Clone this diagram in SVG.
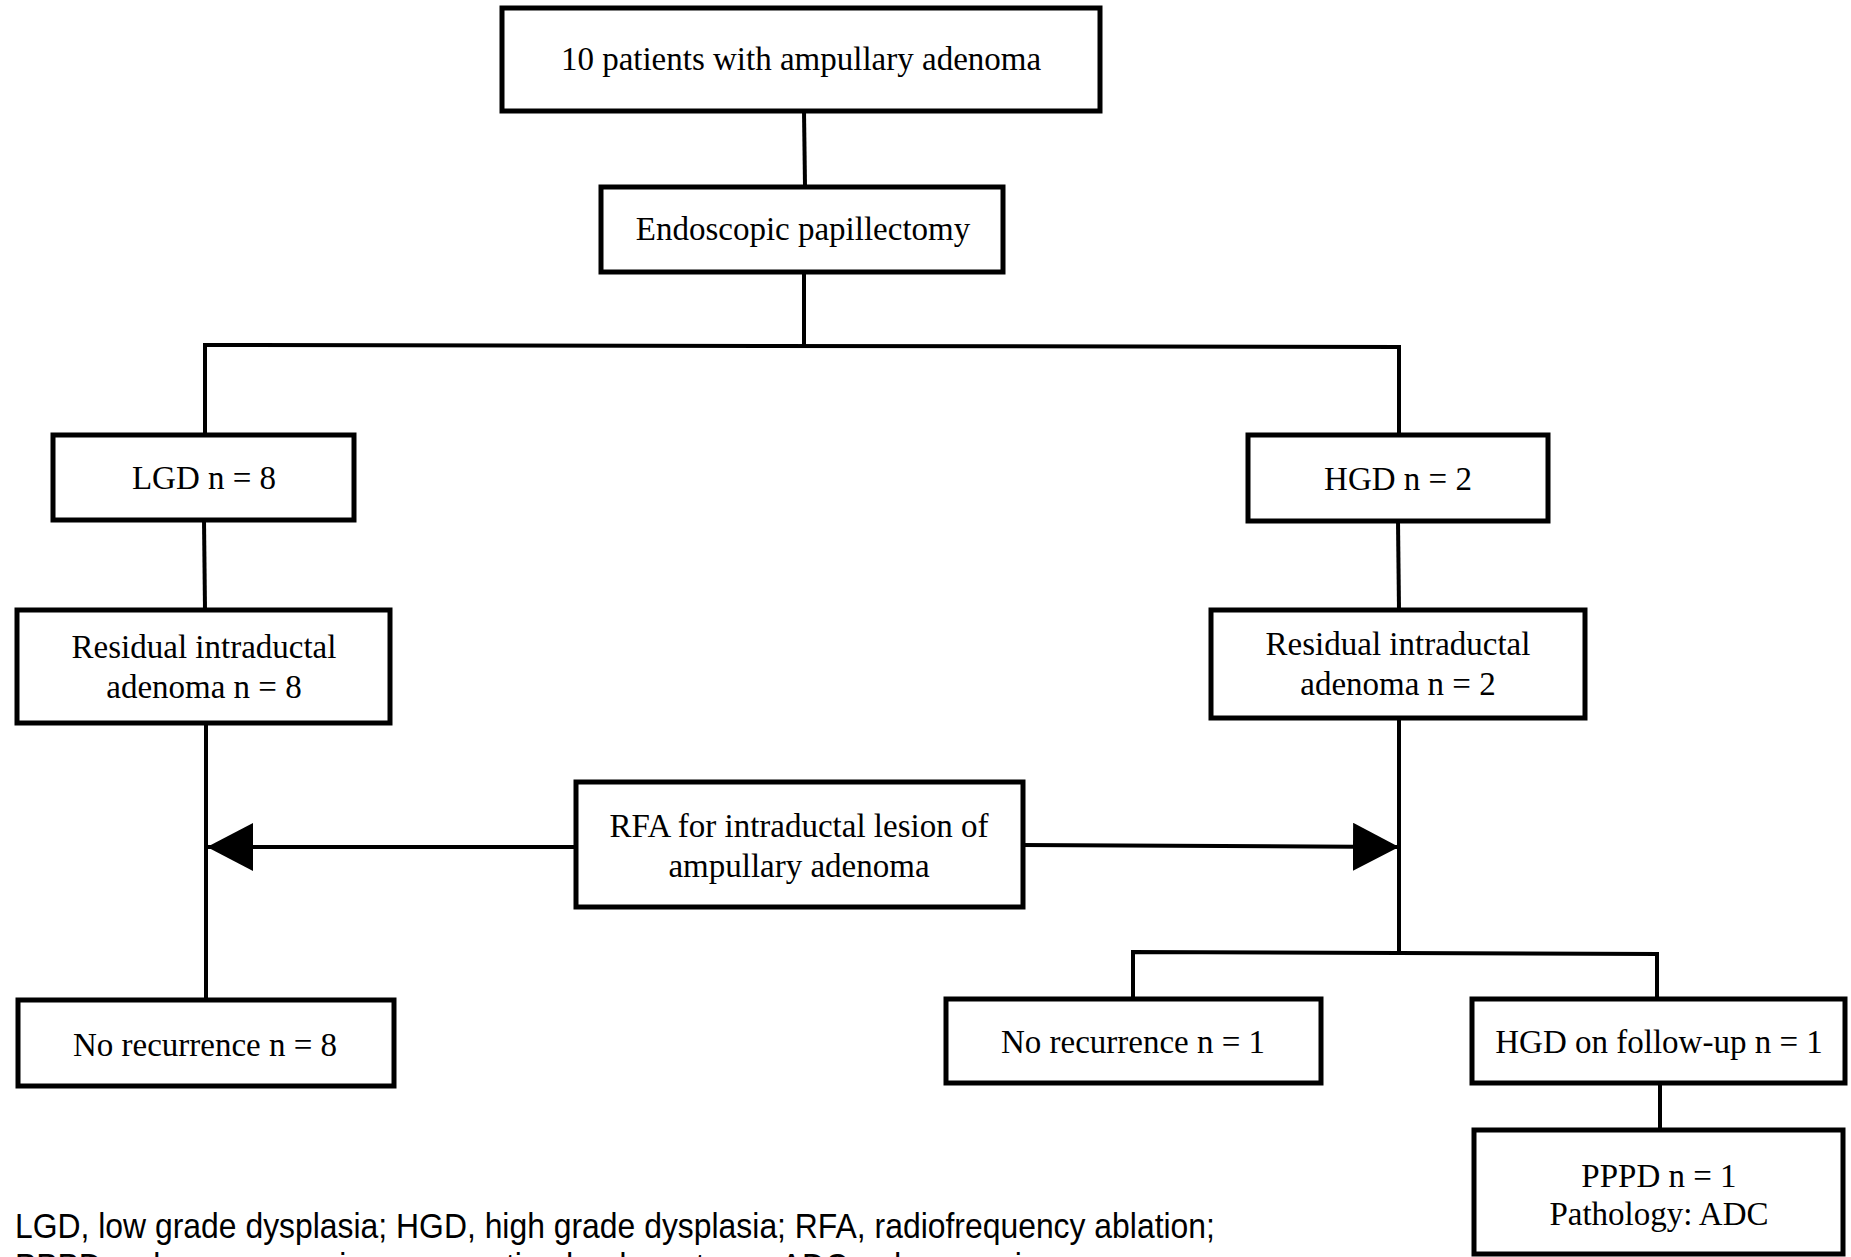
<svg xmlns="http://www.w3.org/2000/svg" width="1851" height="1257" viewBox="0 0 1851 1257">
<style>
.box{fill:#fff;stroke:#000;stroke-width:5}
.ln{fill:none;stroke:#000;stroke-width:4}
.t{font-family:"Liberation Serif","Times New Roman",serif;font-size:33px;fill:#000;text-anchor:middle}
.fn{font-family:"Liberation Sans",Arial,sans-serif;font-size:36px;fill:#000}
</style>
<defs>
<marker id="ah" viewBox="0 0 46 48" refX="46" refY="24" markerWidth="46" markerHeight="48" markerUnits="userSpaceOnUse" orient="auto">
<path d="M0,0 L46,24 L0,48 Z" fill="#000"/>
</marker>
</defs>
<rect width="1851" height="1257" fill="#fff"/>
<g id="connectors">
<line class="ln" x1="804" y1="111" x2="805" y2="186"/>
<line class="ln" x1="804" y1="272" x2="804" y2="346"/>
<polyline class="ln" points="205,434 205,345 1399,347 1399,434"/>
<line class="ln" x1="204" y1="520" x2="205" y2="610"/>
<line class="ln" x1="1398" y1="521" x2="1399" y2="610"/>
<line class="ln" x1="206" y1="723" x2="206" y2="1000"/>
<polyline class="ln" points="1399,718 1399,953"/>
<polyline class="ln" points="1133,999 1133,952 1657,954 1657,999"/>
<line class="ln" x1="1660" y1="1083" x2="1660" y2="1130"/>
<line class="ln" x1="575" y1="847" x2="207" y2="847" marker-end="url(#ah)"/>
<line class="ln" x1="1022" y1="845" x2="1399" y2="847" marker-end="url(#ah)"/>
</g>
<g id="n-top"><rect class="box" x="502" y="8" width="598" height="103"/><text class="t" x="801" y="70">10 patients with ampullary adenoma</text></g>
<g id="n-endo"><rect class="box" x="601" y="187" width="402" height="85"/><text class="t" x="803" y="240">Endoscopic papillectomy</text></g>
<g id="n-lgd"><rect class="box" x="53" y="435" width="301" height="85"/><text class="t" x="204" y="489">LGD n = 8</text></g>
<g id="n-hgd"><rect class="box" x="1248" y="435" width="300" height="86"/><text class="t" x="1398" y="490">HGD n = 2</text></g>
<g id="n-res-l"><rect class="box" x="17" y="610" width="373" height="113"/><text class="t" x="204" y="658">Residual intraductal</text><text class="t" x="204" y="698">adenoma n = 8</text></g>
<g id="n-res-r"><rect class="box" x="1211" y="610" width="374" height="108"/><text class="t" x="1398" y="655">Residual intraductal</text><text class="t" x="1398" y="695">adenoma n = 2</text></g>
<g id="n-rfa"><rect class="box" x="576" y="782" width="447" height="125"/><text class="t" x="799" y="837">RFA for intraductal lesion of</text><text class="t" x="799" y="877">ampullary adenoma</text></g>
<g id="n-norec-l"><rect class="box" x="18" y="1000" width="376" height="86"/><text class="t" x="205" y="1056">No recurrence n = 8</text></g>
<g id="n-norec-r"><rect class="box" x="946" y="999" width="375" height="84"/><text class="t" x="1133" y="1053">No recurrence n = 1</text></g>
<g id="n-hgd-fu"><rect class="box" x="1472" y="999" width="373" height="84"/><text class="t" x="1659" y="1053">HGD on follow-up n = 1</text></g>
<g id="n-pppd"><rect class="box" x="1474" y="1130" width="369" height="124"/><text class="t" x="1659" y="1187">PPPD n = 1</text><text class="t" x="1659" y="1225">Pathology: ADC</text></g>
<g id="footnote" transform="translate(15 0) scale(0.886 1)">
<text class="fn" x="0" y="1238">LGD, low grade dysplasia; HGD, high grade dysplasia; RFA, radiofrequency ablation;</text>
<text class="fn" x="0" y="1278">PPPD, pylorus-preserving pancreaticoduodenectomy; ADC, adenocarcinoma.</text>
</g>
</svg>
